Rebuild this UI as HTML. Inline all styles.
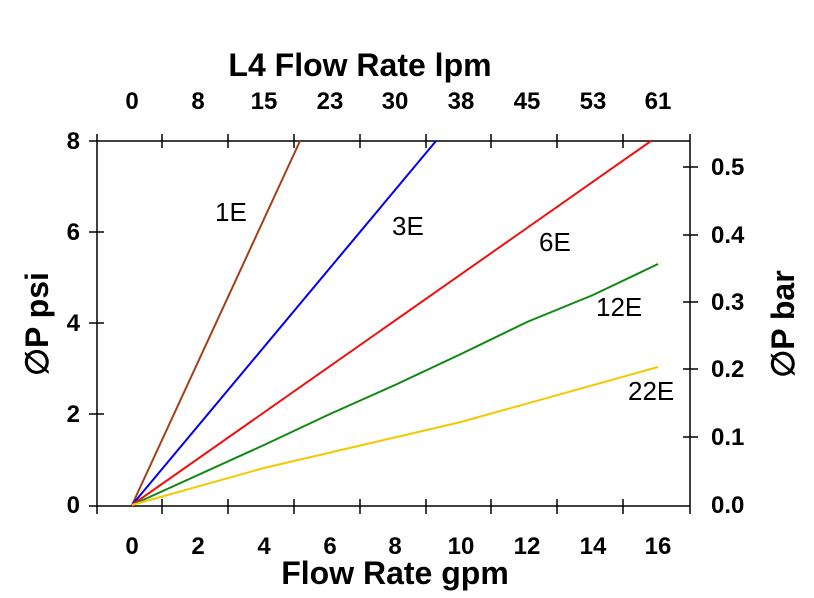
<!DOCTYPE html>
<html><head><meta charset="utf-8"><style>body{margin:0;background:#fff}svg{display:block}</style></head><body>
<svg width="814" height="598" xmlns="http://www.w3.org/2000/svg" font-family="Liberation Sans, Arial, sans-serif">
<g stroke="#000" stroke-width="1.5" fill="none">
<line x1="89" y1="141" x2="690" y2="141"/>
<line x1="89" y1="506" x2="690" y2="506"/>
<line x1="97" y1="134" x2="97" y2="514"/>
<line x1="690" y1="134" x2="690" y2="514"/>
<path d="M162 134V148M228 134V148M294 134V148M360 134V148M426 134V148M491 134V148M557 134V148M623 134V148"/>
<path d="M162 499V514M228 499V514M294 499V514M360 499V514M426 499V514M491 499V514M557 499V514M623 499V514"/>
<path d="M89 232H104M89 323H104M89 414H104"/>
<path d="M683 167H698M683 235H698M683 302H698M683 369H698M683 437H698"/>
</g>
<g fill="none" stroke-width="2">
<polyline stroke="#a0401a" points="132,505 300,141"/>
<polyline stroke="#0000ee" points="132,505 436,141"/>
<polyline stroke="#ee1111" points="132,505 651,141"/>
<polyline stroke="#118811" points="132,505 264,445 330,414 395,385 461,354 527,322 593,295 658,264"/>
<polyline stroke="#f5c800" points="132,505 264,468 461,422 658,367"/>
</g>
<g font-size="26" fill="#000">
<text x="215" y="221">1E</text>
<text x="392" y="235">3E</text>
<text x="539" y="251">6E</text>
<text x="596" y="316">12E</text>
<text x="628" y="400">22E</text>
</g>
<g font-size="24" font-weight="bold" text-anchor="middle">
<text x="132" y="554">0</text><text x="198" y="554">2</text><text x="264" y="554">4</text><text x="330" y="554">6</text><text x="395" y="554">8</text><text x="461" y="554">10</text><text x="527" y="554">12</text><text x="593" y="554">14</text><text x="658" y="554">16</text>
<text x="132" y="109">0</text><text x="198" y="109">8</text><text x="264" y="109">15</text><text x="330" y="109">23</text><text x="395" y="109">30</text><text x="461" y="109">38</text><text x="527" y="109">45</text><text x="593" y="109">53</text><text x="658" y="109">61</text>
</g>
<g font-size="24" font-weight="bold" text-anchor="end">
<text x="80" y="149">8</text><text x="80" y="240">6</text><text x="80" y="331">4</text><text x="80" y="422">2</text><text x="80" y="513">0</text>
</g>
<g font-size="24" font-weight="bold">
<text x="711" y="175">0.5</text><text x="711" y="243">0.4</text><text x="711" y="310">0.3</text><text x="711" y="377">0.2</text><text x="711" y="445">0.1</text><text x="711" y="513">0.0</text>
</g>
<g font-size="32" font-weight="bold" text-anchor="middle">
<text x="395" y="584">Flow Rate gpm</text>
<text x="360" y="76">L4 Flow Rate lpm</text>
<text transform="translate(48,324) rotate(-90)">∅P psi</text>
<text transform="translate(794,324) rotate(-90)">∅P bar</text>
</g>
</svg>
</body></html>
